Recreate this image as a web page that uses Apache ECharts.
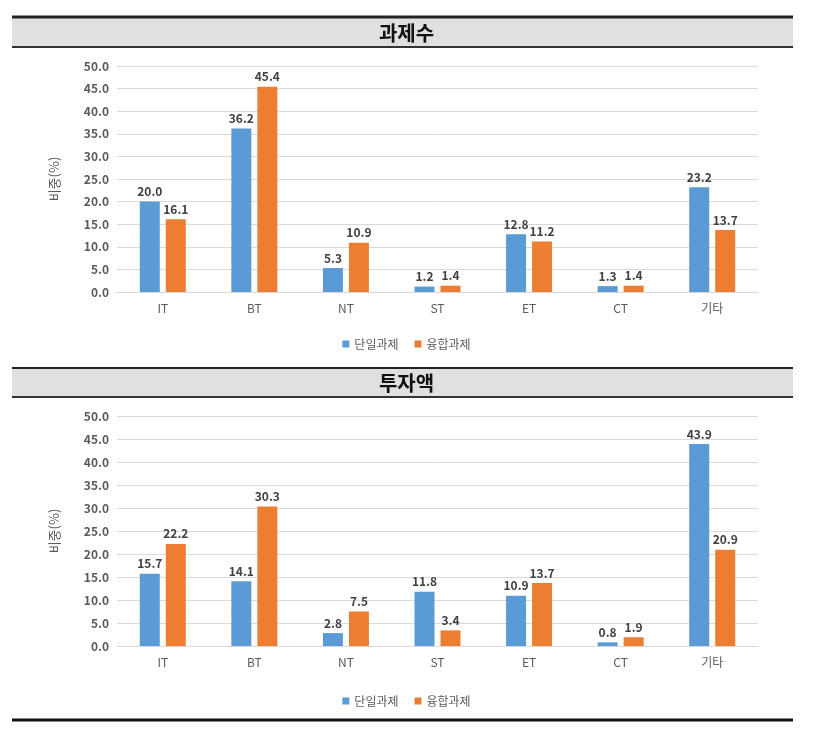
<!DOCTYPE html>
<html><head><meta charset="utf-8">
<script src="https://cdn.jsdelivr.net/npm/echarts@6/dist/echarts.min.js"></script>
<style>html,body{margin:0;padding:0;background:#fff}#c{width:813px;height:735px}</style>
</head><body><div id="c"></div>
<script>
const categories = ['IT','BT','NT','ST','ET','CT','기타'];
const seriesNames = ['단일과제','융합과제'];
const titles = ['과제수','투자액'];
const countSingle = [20.0, 36.2, 5.3, 1.2, 12.8, 1.3, 23.2];
const countFused  = [16.1, 45.4, 10.9, 1.4, 11.2, 1.4, 13.7];
const investSingle = [15.7, 14.1, 2.8, 11.8, 10.9, 0.8, 43.9];
const investFused  = [22.2, 30.3, 7.5, 3.4, 13.7, 1.9, 20.9];
const yTicks = {min:0, max:50, interval:5};
const yName = '비중(%)';

const FONT = '"Noto Sans CJK KR", "Noto Sans", sans-serif';
const BLUE = '#5B9BD5', ORANGE = '#ED7D31';
const chart = echarts.init(document.getElementById('c'));

function yAxis(gi){
  return {gridIndex:gi, type:'value', min:yTicks.min, max:yTicks.max, interval:yTicks.interval,
    name:yName, nameLocation:'middle', nameRotate:90, nameGap:56,
    nameTextStyle:{color:'#595959', fontSize:13, fontFamily:FONT},
    axisLine:{show:false}, axisTick:{show:false},
    axisLabel:{color:'#595959', fontSize:12, fontFamily:FONT, fontWeight:'bold', formatter:v=>v.toFixed(1)},
    splitLine:{lineStyle:{color:'#d9d9d9'}}};
}
function xAxis(gi){
  return {gridIndex:gi, type:'category', data:categories,
    axisLine:{lineStyle:{color:'#d9d9d9'}}, axisTick:{show:false},
    axisLabel:{color:'#595959', fontSize:12, fontFamily:FONT, margin:10}};
}
function bar(name, data, gi, color){
  return {name, type:'bar', xAxisIndex:gi, yAxisIndex:gi, data, barWidth:20, barGap:'30%',
    itemStyle:{color}, label:{show:true, position:'top', distance:4, color:'#404040', fontSize:12,
    fontFamily:FONT, fontWeight:'bold', formatter:p=>p.value.toFixed(1)}};
}
function legend(top){
  return {top, left:'center', data:seriesNames, icon:'rect', itemWidth:7, itemHeight:7, itemGap:16,
    textStyle:{color:'#595959', fontSize:12, fontFamily:FONT}, selectedMode:false};
}
function band(y1, y2, topW){
  return [
    {type:'rect', shape:{x:12, y:y1, width:781, height:y2-y1}, style:{fill:'#e0e0e0'}, z:-1},
    {type:'line', shape:{x1:12, y1:y1, x2:793, y2:y1}, style:{stroke:'#222', lineWidth:topW}},
    {type:'line', shape:{x1:12, y1:y2, x2:793, y2:y2}, style:{stroke:'#333', lineWidth:2}}
  ];
}

chart.setOption({
  animation:false,
  title:[
    {text:titles[0], left:'center', top:18, textStyle:{fontSize:20, fontWeight:'bold', color:'#111', fontFamily:FONT}},
    {text:titles[1], left:'center', top:368, textStyle:{fontSize:20, fontWeight:'bold', color:'#111', fontFamily:FONT}}
  ],
  graphic:[...band(17,47,3), ...band(368,397,2),
    {type:'line', shape:{x1:12, y1:720, x2:793, y2:720}, style:{stroke:'#111', lineWidth:3}}],
  legend:[legend(333), legend(690)],
  grid:[{left:117, right:55, top:66, height:226},{left:117, right:55, top:416, height:230}],
  xAxis:[xAxis(0), xAxis(1)],
  yAxis:[yAxis(0), yAxis(1)],
  series:[bar(seriesNames[0], countSingle, 0, BLUE), bar(seriesNames[1], countFused, 0, ORANGE),
          bar(seriesNames[0], investSingle, 1, BLUE), bar(seriesNames[1], investFused, 1, ORANGE)]
});
</script></body></html>
